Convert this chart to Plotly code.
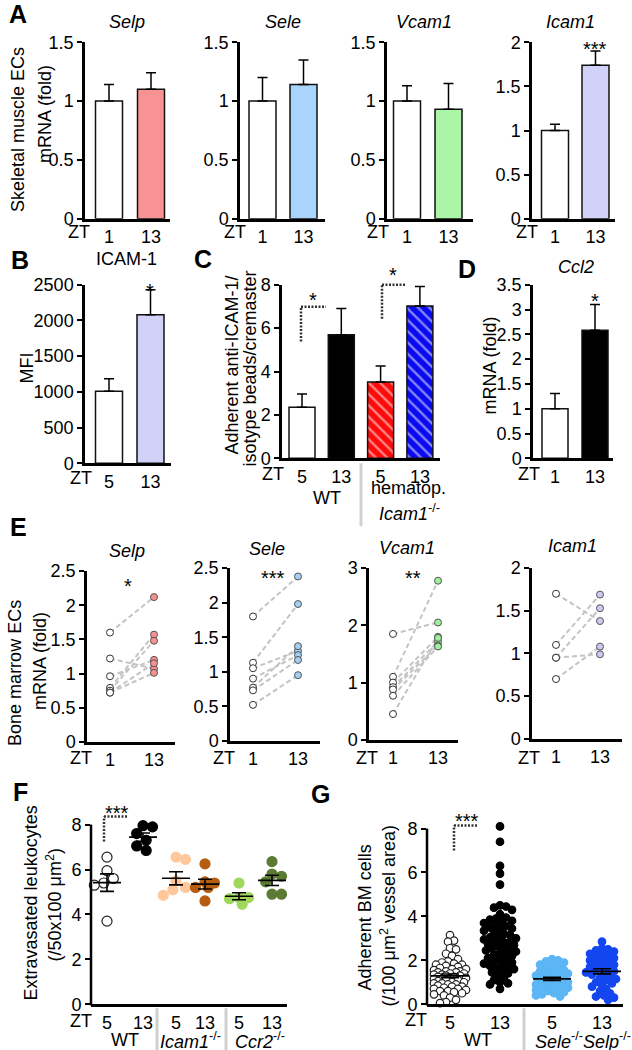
import numpy as np
import plotly.graph_objects as go

W, H = 632, 1050
FONT = "Liberation Sans, Arial, sans-serif"

# ---------------- data ----------------
# A: skeletal muscle ECs, mRNA (fold), ZT1 vs ZT13 (mean, SEM)
a_ticks = ["1", "13"]
a_selp_mean = [1.00, 1.10]
a_selp_sem = [0.14, 0.14]
a_sele_mean = [1.00, 1.14]
a_sele_sem = [0.20, 0.21]
a_vcam1_mean = [1.00, 0.93]
a_vcam1_sem = [0.13, 0.22]
a_icam1_mean = [1.00, 1.74]
a_icam1_sem = [0.07, 0.16]

# B: ICAM-1 MFI
b_ticks = ["5", "13"]
b_mfi_mean = [1010, 2080]
b_mfi_sem = [175, 350]

# C: adherent anti-ICAM-1 / isotype beads
c_ticks = ["5", "13", "5", "13"]
c_beads_mean = [2.35, 5.70, 3.52, 7.02]
c_beads_sem = [0.62, 1.20, 0.73, 0.90]

# D: Ccl2 mRNA
d_ticks = ["1", "13"]
d_ccl2_mean = [1.00, 2.58]
d_ccl2_sem = [0.31, 0.52]

# E: bone marrow ECs, paired ZT1 -> ZT13
e_ticks = ["1", "13"]
e_selp_zt1 = [1.60, 1.22, 0.96, 0.79, 0.75, 0.72, 0.72]
e_selp_zt13 = [2.12, 1.07, 1.20, 1.57, 1.48, 1.15, 1.01]
e_sele_zt1 = [1.80, 1.13, 1.05, 0.90, 0.77, 0.73, 0.52]
e_sele_zt13 = [2.38, 1.98, 1.30, 1.24, 1.37, 1.17, 0.95]
e_vcam1_zt1 = [1.85, 1.10, 1.00, 0.92, 0.88, 0.77, 0.45]
e_vcam1_zt13 = [2.05, 2.78, 1.80, 1.72, 1.65, 1.63, 1.78]
e_icam1_zt1 = [1.70, 1.10, 0.95, 0.95, 0.70]
e_icam1_zt13 = [1.38, 1.69, 1.53, 0.99, 1.08]

# F: extravasated leukocytes
f_ticks = ["5", "13", "5", "13", "5", "13"]
f_wt_zt5 = [6.55, 5.95, 5.60, 5.40, 5.30, 3.70]
f_wt_zt13 = [7.95, 7.90, 7.60, 7.30, 7.05, 6.85]
f_icam1_zt5 = [6.55, 6.45, 5.50, 5.20, 5.10, 4.85]
f_icam1_zt13 = [6.25, 5.45, 5.40, 5.20, 5.20, 4.60]
f_ccr2_zt5 = [5.40, 4.75, 4.75, 4.70, 4.45]
f_ccr2_zt13 = [6.35, 5.80, 5.70, 5.45, 4.90, 4.90]

# G: adherent BM cells
g_ticks = ["5", "13", "5", "13"]
g_wt_zt5 = [3.15, 2.90, 2.85, 2.55, 2.50, 2.30, 2.20, 2.05, 1.95, 1.90, 1.85, 1.80,
            1.80, 1.75, 1.70, 1.65, 1.60, 1.60, 1.55, 1.50, 1.50, 1.45, 1.45, 1.40,
            1.40, 1.35, 1.35, 1.30, 1.30, 1.25, 1.25, 1.20, 1.20, 1.15, 1.15, 1.10,
            1.10, 1.05, 1.00, 1.00, 0.95, 0.95, 0.90, 0.90, 0.85, 0.80, 0.80, 0.75,
            0.70, 0.70, 0.65, 0.60, 0.60, 0.55, 0.50, 0.45, 0.40, 0.30, 0.20, 0.10, 0.05]
g_wt_zt13 = [8.10, 7.40, 6.30, 5.95, 5.45, 4.50, 4.45, 4.40, 4.30, 4.10, 3.95, 3.90,
             3.85, 3.80, 3.75, 3.70, 3.60, 3.55, 3.50, 3.45, 3.40, 3.35, 3.30, 3.20,
             3.15, 3.10, 3.05, 3.00, 2.95, 2.90, 2.85, 2.80, 2.75, 2.70, 2.65, 2.60,
             2.55, 2.50, 2.45, 2.40, 2.35, 2.30, 2.25, 2.20, 2.10, 2.05, 2.00, 1.95,
             1.90, 1.85, 1.80, 1.75, 1.70, 1.65, 1.60, 1.50, 1.45, 1.40, 1.30, 1.20,
             1.10, 1.00, 0.95, 0.90, 0.70]
g_ko_zt5 = [2.05, 2.00, 1.95, 1.90, 1.80, 1.75, 1.70, 1.60, 1.55, 1.50, 1.45, 1.40,
            1.40, 1.35, 1.30, 1.30, 1.25, 1.20, 1.20, 1.15, 1.15, 1.10, 1.10, 1.05,
            1.00, 1.00, 0.95, 0.90, 0.90, 0.85, 0.80, 0.80, 0.75, 0.70, 0.65, 0.60,
            0.55, 0.50, 0.45, 0.40, 0.35]
g_ko_zt13 = [2.85, 2.55, 2.50, 2.45, 2.40, 2.30, 2.25, 2.20, 2.15, 2.10, 2.00, 1.95,
             1.90, 1.85, 1.80, 1.70, 1.65, 1.60, 1.55, 1.50, 1.45, 1.40, 1.35, 1.30,
             1.20, 1.15, 1.10, 1.00, 0.95, 0.90, 0.80, 0.70, 0.60, 0.50, 0.40, 0.35,
             0.30, 0.20]

# ---------------- layout helpers ----------------
fig = go.Figure()
layout_axes = {}
geom = {}
annotations = []
shapes = []
counter = [0]
TICKFONT = dict(family=FONT, size=18, color="black")


def Y(y):
    # map a target pixel row to the row used in the figure (capture compensation)
    return (y - 7.7) / 0.983


def make_panel(key, left, right, c0, sp, y0, ytop, ymax, ytickvals, yticktext,
               xtickvals, xticktext, range_top=None):
    counter[0] += 1
    n = counter[0]
    sfx = "" if n == 1 else str(n)
    xa, ya = "x" + sfx, "y" + sfx
    xl = (left - c0) / sp
    xr = (right - c0) / sp
    y0c, ytc = Y(y0), Y(ytop)
    rtop = ymax if range_top is None else range_top
    ytop_dom = y0c - (y0c - ytc) * rtop / ymax
    layout_axes["xaxis" + sfx] = dict(
        domain=[left / W, right / W], range=[xl, xr], anchor=ya,
        showline=True, linecolor="black", linewidth=2.5, ticks="",
        showgrid=False, zeroline=False, tickmode="array",
        tickvals=xtickvals, ticktext=xticktext, tickfont=TICKFONT)
    layout_axes["yaxis" + sfx] = dict(
        domain=[1 - y0c / H, 1 - ytop_dom / H], range=[0, rtop], anchor=xa,
        showline=range_top is None, linecolor="black", linewidth=2.5,
        ticks="outside", ticklen=5, tickwidth=2, tickcolor="black",
        showgrid=False, zeroline=False, tickmode="array", tickvals=ytickvals,
        ticktext=yticktext, tickfont=TICKFONT)
    geom[key] = dict(xa=xa, ya=ya, c0=c0, sp=sp, y0=y0c, ytop=ytc, ymax=ymax,
                     left=left)
    if range_top is not None:
        shapes.append(dict(type="line", xref="paper", yref="paper",
                           x0=left / W, x1=left / W, y0=1 - y0c / H - 1.25 / H,
                           y1=1 - ytc / H, line=dict(color="black", width=2.5),
                           layer="above"))


def ann(text, x, y, size=18, angle=0, bold=False, italic=False, color="black"):
    if italic:
        text = "<i>" + text + "</i>"
    if bold:
        text = "<b>" + text + "</b>"
    annotations.append(dict(text=text, x=x / W, y=1 - Y(y) / H, xref="paper",
                            yref="paper", showarrow=False, textangle=angle,
                            xanchor="center", yanchor="middle",
                            font=dict(family=FONT, size=size, color=color)))


def seg(x0, y0, x1, y1, color="black", width=2, dash=None):
    ln = dict(color=color, width=width)
    if dash:
        ln["dash"] = dash
    shapes.append(dict(type="line", xref="paper", yref="paper",
                       x0=x0 / W, x1=x1 / W, y0=1 - Y(y0) / H, y1=1 - Y(y1) / H,
                       line=ln, layer="above"))


def bracket(xv, ybot, ytop, xh):
    seg(xv, ybot, xv, ytop, color="#333", width=2.5, dash="2px,1.5px")
    seg(xv, ytop, xh, ytop, color="#333", width=2.5, dash="2px,1.5px")


def bars(key, means, sems, colors, width_px=27, pattern=None):
    g = geom[key]
    marker = dict(color=colors, line=dict(color="#111", width=1.5))
    if pattern:
        marker["pattern"] = pattern
    fig.add_trace(go.Bar(
        x=list(range(len(means))), y=means, width=width_px / g["sp"],
        marker=marker, xaxis=g["xa"], yaxis=g["ya"], showlegend=False,
        hoverinfo="skip",
        error_y=dict(type="data", symmetric=False, array=sems,
                     arrayminus=[0] * len(sems), color="black",
                     thickness=1.5, width=5)))


def paired(key, v1, v13, col13):
    g = geom[key]
    xs, ys = [], []
    for a, b in zip(v1, v13):
        xs += [0, 1, None]
        ys += [a, b, None]
    fig.add_trace(go.Scatter(x=xs, y=ys, mode="lines",
                             line=dict(color="#c4c4c4", width=2, dash="5px,3px"),
                             xaxis=g["xa"], yaxis=g["ya"], showlegend=False,
                             hoverinfo="skip"))
    fig.add_trace(go.Scatter(x=[0] * len(v1), y=v1, mode="markers",
                             marker=dict(size=7, color="white",
                                         line=dict(color="#333", width=1)),
                             xaxis=g["xa"], yaxis=g["ya"], showlegend=False,
                             cliponaxis=False, hoverinfo="skip"))
    fig.add_trace(go.Scatter(x=[1] * len(v13), y=v13, mode="markers",
                             marker=dict(size=7, color=col13,
                                         line=dict(color="#555", width=1)),
                             xaxis=g["xa"], yaxis=g["ya"], showlegend=False,
                             cliponaxis=False, hoverinfo="skip"))


def swarm(values, d_px, ppu_y, max_off):
    placed = []
    res = [0.0] * len(values)
    order = np.argsort(values)[::-1]
    step = d_px / 3.0
    cands = [0.0]
    for j in range(1, 60):
        cands += [j * step, -j * step]
    cands = [c for c in cands if abs(c) <= max_off]
    for i in order:
        y = values[i] * ppu_y
        best, best_d, best_c = None, -1, 0.0
        for c in cands:
            md = min([np.hypot(c - px, y - py) for px, py in placed] or [1e9])
            if md >= d_px:
                best = c
                break
            if md > best_d:
                best_d, best_c = md, c
        if best is None:
            best = best_c
        placed.append((best, y))
        res[i] = best
    return res


def dots(key, xc_px, vals, color, edge, size, d_px, max_off, mean_half, cap_half):
    g = geom[key]
    ppu_y = (g["y0"] - g["ytop"]) / g["ymax"]
    offs = swarm(vals, d_px, ppu_y, max_off)
    xs = [(xc_px + o - g["c0"]) / g["sp"] for o in offs]
    fig.add_trace(go.Scatter(x=xs, y=vals, mode="markers",
                             marker=dict(size=size, color=color,
                                         line=dict(color=edge, width=1.2)),
                             xaxis=g["xa"], yaxis=g["ya"], showlegend=False,
                             cliponaxis=False, hoverinfo="skip"))
    m = float(np.mean(vals))
    s = float(np.std(vals, ddof=1) / np.sqrt(len(vals)))
    xc = (xc_px - g["c0"]) / g["sp"]
    mh, ch = mean_half / g["sp"], cap_half / g["sp"]
    lx = [xc - mh, xc + mh, None, xc, xc, None, xc - ch, xc + ch, None, xc - ch, xc + ch]
    ly = [m, m, None, m - s, m + s, None, m - s, m - s, None, m + s, m + s]
    fig.add_trace(go.Scatter(x=lx, y=ly, mode="lines",
                             line=dict(color="black", width=1.6),
                             xaxis=g["xa"], yaxis=g["ya"], showlegend=False,
                             hoverinfo="skip"))


# ---------------- panel A ----------------
t15 = [0, 0.5, 1, 1.5]
t15t = ["0", "0.5", "1", "1.5"]
t2 = [0, 0.5, 1, 1.5, 2]
t2t = ["0", "0.5", "1", "1.5", "2"]
make_panel("A1", 85, 170, 109, 42, 217, 40, 1.5, t15, t15t, [0, 1], a_ticks)
make_panel("A2", 240, 325, 262.5, 41, 217, 40, 1.5, t15, t15t, [0, 1], a_ticks)
make_panel("A3", 387, 473, 407, 41.5, 217, 40, 1.5, t15, t15t, [0, 1], a_ticks)
make_panel("A4", 532, 615, 555, 40.5, 217, 40, 2, t2, t2t, [0, 1], a_ticks)
bars("A1", a_selp_mean, a_selp_sem, ["white", "#f99393"])
bars("A2", a_sele_mean, a_sele_sem, ["white", "#a9d5fa"])
bars("A3", a_vcam1_mean, a_vcam1_sem, ["white", "#aaf5a6"])
bars("A4", a_icam1_mean, a_icam1_sem, ["white", "#d2d2f8"])

# ---------------- panel B ----------------
make_panel("B", 85, 171, 109, 41.5, 462, 283, 2500,
           [0, 500, 1000, 1500, 2000, 2500],
           ["0", "500", "1000", "1500", "2000", "2500"], [0, 1], b_ticks)
bars("B", b_mfi_mean, b_mfi_sem, ["white", "#d2d2f8"])

# ---------------- panel C ----------------
make_panel("C", 282, 440, 302, 39.3, 457, 283, 8, [0, 2, 4, 6, 8],
           ["0", "2", "4", "6", "8"], [0, 1, 2, 3], c_ticks)
bars("C", c_beads_mean, c_beads_sem, ["white", "black", "#ff0a0a", "#0a0af0"],
     width_px=26,
     pattern=dict(shape=["", "", "\\", "\\"], fgcolor="white", size=8,
                  solidity=0.3, fillmode="overlay"))

# ---------------- panel D ----------------
make_panel("D", 533, 613, 555, 40, 457, 283, 3.5,
           [0, 0.5, 1, 1.5, 2, 2.5, 3, 3.5],
           ["0", "0.5", "1", "1.5", "2", "2.5", "3", "3.5"], [0, 1], d_ticks)
bars("D", d_ccl2_mean, d_ccl2_sem, ["white", "black"], width_px=26)

# ---------------- panel E ----------------
t25 = [0, 0.5, 1, 1.5, 2, 2.5]
t25t = ["0", "0.5", "1", "1.5", "2", "2.5"]
make_panel("E1", 87, 175, 110, 44, 741, 570, 2.5, t25, t25t, [0, 1], e_ticks)
make_panel("E2", 230, 320, 253, 45, 740, 567, 2.5, t25, t25t, [0, 1], e_ticks)
make_panel("E3", 369, 458, 393, 45, 739, 567, 3, [0, 1, 2, 3], ["0", "1", "2", "3"],
           [0, 1], e_ticks)
make_panel("E4", 532, 622, 556, 44, 738, 567, 2, t2, t2t, [0, 1], e_ticks)
paired("E1", e_selp_zt1, e_selp_zt13, "#f79191")
paired("E2", e_sele_zt1, e_sele_zt13, "#a3cff5")
paired("E3", e_vcam1_zt1, e_vcam1_zt13, "#9ff09c")
paired("E4", e_icam1_zt1, e_icam1_zt13, "#cacaf5")

# ---------------- panel F ----------------
f_centers = [107, 143, 176, 205, 239, 272]
make_panel("F", 91, 287, 107, 33, 1004, 824, 8, [0, 2, 4, 6, 8],
           ["0", "2", "4", "6", "8"], [(c - 107) / 33 for c in f_centers], f_ticks,
           range_top=8.4)
f_groups = [(f_wt_zt5, "white", "#222"), (f_wt_zt13, "black", "black"),
            (f_icam1_zt5, "#ffc89c", "#ffc89c"), (f_icam1_zt13, "#b65c10", "#b65c10"),
            (f_ccr2_zt5, "#9fd75c", "#9fd75c"), (f_ccr2_zt13, "#5b7a33", "#5b7a33")]
for cx, (vals, col, edge) in zip(f_centers, f_groups):
    dots("F", cx, vals, col, edge, 10, 9.5, 15, 14, 7)

# ---------------- panel G ----------------
g_centers = [450, 500, 552, 602]
make_panel("G", 427, 623, 450, 50.7, 1004, 828, 8, [0, 2, 4, 6, 8],
           ["0", "2", "4", "6", "8"], [(c - 450) / 50.7 for c in g_centers], g_ticks,
           range_top=8.6)
g_groups = [(g_wt_zt5, "white", "#222"), (g_wt_zt13, "black", "black"),
            (g_ko_zt5, "#5cb6f5", "#5cb6f5"), (g_ko_zt13, "#1446f0", "#1446f0")]
for cx, (vals, col, edge) in zip(g_centers, g_groups):
    dots("G", cx, vals, col, edge, 7.5, 6.0, 17, 19, 9)

# ---------------- text ----------------
for letter, x, y in [("A", 18, 12), ("B", 20, 258), ("C", 203, 257), ("D", 467, 267),
                     ("E", 18, 526), ("F", 20, 791), ("G", 320, 793)]:
    ann(letter, x, y, size=25, bold=True)

for t, x, y in [("Selp", 127, 20), ("Sele", 283, 20), ("Vcam1", 424, 20),
                ("Icam1", 570, 20), ("Ccl2", 576, 265), ("Selp", 127, 550),
                ("Sele", 267, 548), ("Vcam1", 407, 547), ("Icam1", 572, 545)]:
    ann(t, x, y, italic=True)
ann("ICAM-1", 127, 257)

for t, x, y in [("***", 595, 47), ("*", 150, 289), ("*", 313, 298), ("*", 393, 273),
                ("*", 595, 299), ("*", 128, 585), ("***", 273, 577), ("**", 413, 577),
                ("***", 117, 812), ("***", 467, 820)]:
    ann(t, x, y, size=20)

for x, y in [(79, 230), (235, 230), (378, 230), (527, 230), (81, 477), (273, 473),
             (529, 473), (81, 757), (224, 757), (367, 757), (529, 757), (81, 1021),
             (416, 1020)]:
    ann("ZT", x, y)

ann("WT", 327, 497)
ann("hematop.", 408, 487)
ann("<i>Icam1</i><sup>-/-</sup>", 409, 511)
ann("WT", 125, 1040)
ann("<i>Icam1</i><sup>-/-</sup>", 190, 1040)
ann("<i>Ccr2</i><sup>-/-</sup>", 260, 1040)
ann("WT", 478, 1040)
ann("<i>Sele</i><sup>-/-</sup><i>Selp</i><sup>-/-</sup>", 583, 1040)

# y-axis titles
ann("Skeletal muscle ECs", 18, 128, angle=-90)
ann("mRNA (fold)", 45, 112, angle=-90)
ann("MFI", 27, 367, angle=-90)
ann("Adherent anti-ICAM-1/", 232, 364, angle=-90)
ann("isotype beads/cremaster", 250, 367, angle=-90)
ann("mRNA (fold)", 490, 364, angle=-90)
ann("Bone marrow ECs", 15, 672, angle=-90)
ann("mRNA (fold)", 40, 660, angle=-90)
ann("Extravasated leukocytes", 31, 903, angle=-90)
ann("(/50x100 μm<sup>2</sup>)", 54, 905, angle=-90)
ann("Adherent BM cells", 365, 917, angle=-90)
ann("(/100 μm<sup>2</sup> vessel area)", 388, 916, angle=-90)

# significance brackets
bracket(301, 340, 305, 326)
bracket(382, 317, 283, 405)
bracket(104, 841, 816, 127)
bracket(454, 850, 825, 477)

# group separators
seg(361, 462, 361, 525, color="#d0d0d0", width=3)
seg(157, 1008, 157, 1050, color="#d0d0d0", width=3)
seg(226, 1008, 226, 1050, color="#d0d0d0", width=3)
seg(524, 1008, 524, 1050, color="#d0d0d0", width=3)

fig.update_layout(
    width=W, height=H, margin=dict(l=0, r=0, t=0, b=0),
    paper_bgcolor="white", plot_bgcolor="rgba(0,0,0,0)",
    font=dict(family=FONT, size=18, color="black"),
    showlegend=False, annotations=annotations, shapes=shapes,
    **layout_axes)

fig.write_html("out.html", config={"displayModeBar": False},
               post_script="document.body.style.margin='0px';")
